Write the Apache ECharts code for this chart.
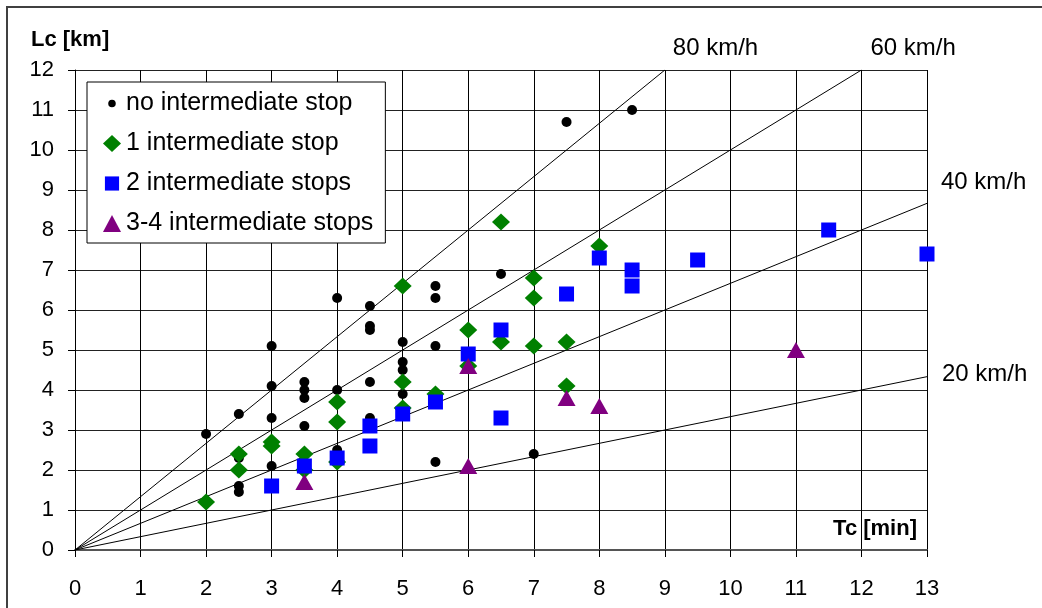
<!DOCTYPE html>
<html>
<head>
<meta charset="utf-8">
<script src="https://cdn.jsdelivr.net/npm/echarts@6/dist/echarts.min.js"></script>
<style>
  html, body { margin: 0; padding: 0; background: #fff; }
  #chart { width: 1042px; height: 608px; }
</style>
</head>
<body>
<div id="chart"></div>
<script>
// Tc [min], Lc [km] pairs
var noStop = [
    [2, 2.9], [2.5, 3.4], [2.5, 2.3], [2.5, 1.6], [2.5, 1.45],
    [3, 5.1], [3, 4.1], [3, 3.3], [3, 2.1],
    [3.5, 4.2], [3.5, 4.0], [3.5, 3.8], [3.5, 3.1],
    [4, 6.3], [4, 4.0], [4, 2.5],
    [4.5, 6.1], [4.5, 5.6], [4.5, 5.5], [4.5, 4.2], [4.5, 3.3],
    [5, 5.2], [5, 4.7], [5, 4.5], [5, 3.9],
    [5.5, 6.6], [5.5, 6.3], [5.5, 5.1], [5.5, 2.2],
    [6.5, 6.9], [7, 2.4], [7.5, 10.7], [8.5, 11.0]
];
var oneStop = [
    [2, 1.2], [2.5, 2.4], [2.5, 2.0], [3, 2.7], [3, 2.6],
    [3.5, 2.4], [3.5, 2.0], [4, 3.7], [4, 3.2], [4, 2.2],
    [5, 6.6], [5, 4.2], [5, 3.55], [5.5, 3.9],
    [6, 5.5], [6, 4.6], [6.5, 8.2], [6.5, 5.2],
    [7, 6.8], [7, 6.3], [7, 5.1], [7.5, 5.2], [7.5, 4.1], [8, 7.6]
];
var twoStops = [
    [3, 1.6], [3.5, 2.1], [4, 2.3], [4.5, 3.1], [4.5, 2.6],
    [5, 3.4], [5.5, 3.7], [6, 4.9], [6.5, 5.5], [6.5, 3.3],
    [7.5, 6.4], [8, 7.3], [8.5, 7.0], [8.5, 6.6],
    [9.5, 7.25], [11.5, 8.0], [13, 7.4]
];
var threeFourStops = [
    [3.5, 1.7], [6, 4.6], [6, 2.1], [7.5, 3.8], [8, 3.6], [11, 5.0]
];

// speed reference lines: km/h and the time where each line stops
var speeds = [80, 60, 40, 20];
var speedEndT = [9, 12, 13, 13];
var speedLabelOffset = [[8, -22], [9, -22], [14, -21], [15, -2]];

var xTicks = [0, 1, 2, 3, 4, 5, 6, 7, 8, 9, 10, 11, 12, 13];

var FONT = '"Liberation Sans", Arial, sans-serif';

var myChart = echarts.init(document.getElementById('chart'));

var series = [];
speeds.forEach(function (v, i) {
    var t = speedEndT[i];
    series.push({
        type: 'line',
        silent: true,
        symbol: 'none',
        data: [[0, 0], [t, v * t / 60]],
        lineStyle: { color: '#000', width: 1 },
        endLabel: {
            show: true,
            formatter: v + ' km/h',
            distance: 0,
            offset: speedLabelOffset[i],
            color: '#000',
            fontFamily: FONT,
            fontSize: 24
        },
        z: 1
    });
});

series.push(
    {
        name: 'no intermediate stop',
        type: 'scatter',
        data: noStop,
        symbol: 'circle',
        symbolSize: 10,
        itemStyle: { color: '#000', opacity: 1 },
        z: 2
    },
    {
        name: '1 intermediate stop',
        type: 'scatter',
        data: oneStop,
        symbol: 'diamond',
        symbolSize: [18, 17],
        itemStyle: { color: '#008000', opacity: 1 },
        z: 3
    },
    {
        name: '2 intermediate stops',
        type: 'scatter',
        data: twoStops,
        symbol: 'rect',
        symbolSize: 15,
        itemStyle: { color: '#0000ff', opacity: 1 },
        z: 4
    },
    {
        name: '3-4 intermediate stops',
        type: 'scatter',
        data: threeFourStops,
        symbol: 'triangle',
        symbolSize: [18, 16],
        itemStyle: { color: '#800080', opacity: 1 },
        z: 5
    }
);

var option = {
    backgroundColor: '#fff',
    animation: false,
    textStyle: { fontFamily: FONT },
    grid: { left: 75, right: 115, top: 70, bottom: 58, containLabel: false },
    legend: {
        orient: 'vertical',
        left: 87,
        top: 82,
        padding: [9, 12, 7, 16],
        itemGap: 15,
        itemWidth: 18,
        itemHeight: 17,
        backgroundColor: '#fff',
        borderColor: '#000',
        borderWidth: 1,
        selectedMode: false,
        textStyle: { fontFamily: FONT, fontSize: 25, color: '#000', lineHeight: 24 },
        data: [
            // small dot / square: the extra moveTo points keep the mark small inside the icon box
            { name: 'no intermediate stop', icon: 'path://M0,0M18,18M9,5A4,4,0,1,1,8.99,5Z' },
            { name: '1 intermediate stop', icon: 'diamond' },
            { name: '2 intermediate stops', icon: 'path://M0,0M18,18M1.5,1.5H16.5V16.5H1.5Z' },
            { name: '3-4 intermediate stops', icon: 'triangle' }
        ]
    },
    xAxis: {
        type: 'value',
        min: 0,
        max: 13,
        interval: 1,
        axisLine: { show: true, onZero: false, lineStyle: { color: '#555', width: 2 } },
        axisTick: { show: true, length: 7, lineStyle: { color: '#000', width: 1 } },
        axisLabel: {
            margin: 28,
            color: '#000',
            fontFamily: FONT,
            fontSize: 22,
            formatter: function (val) { return xTicks.indexOf(val) >= 0 ? String(val) : ''; }
        },
        splitLine: { show: true, lineStyle: { color: '#000', width: 1 } }
    },
    yAxis: {
        type: 'value',
        min: 0,
        max: 12,
        interval: 1,
        axisLine: { show: true, onZero: false, lineStyle: { color: '#000', width: 1 } },
        axisTick: { show: true, length: 7, lineStyle: { color: '#000', width: 1 } },
        axisLabel: { margin: 21, color: '#000', fontFamily: FONT, fontSize: 22 },
        splitLine: { show: true, lineStyle: { color: '#222', width: 1 } }
    },
    graphic: [
        {
            type: 'rect',
            silent: true,
            shape: { x: 7, y: 7, width: 1045, height: 620 },
            style: { fill: null, stroke: '#404040', lineWidth: 2 },
            z: -1
        },
        {
            type: 'text',
            left: 31,
            top: 29,
            style: { text: 'Lc [km]', font: 'bold 22px ' + FONT, fill: '#000' }
        },
        {
            type: 'text',
            right: 1042 - 917,
            top: 518,
            style: { text: 'Tc [min]', font: 'bold 22px ' + FONT, fill: '#000' }
        }
    ],
    series: series
};

myChart.setOption(option);
</script>
</body>
</html>
